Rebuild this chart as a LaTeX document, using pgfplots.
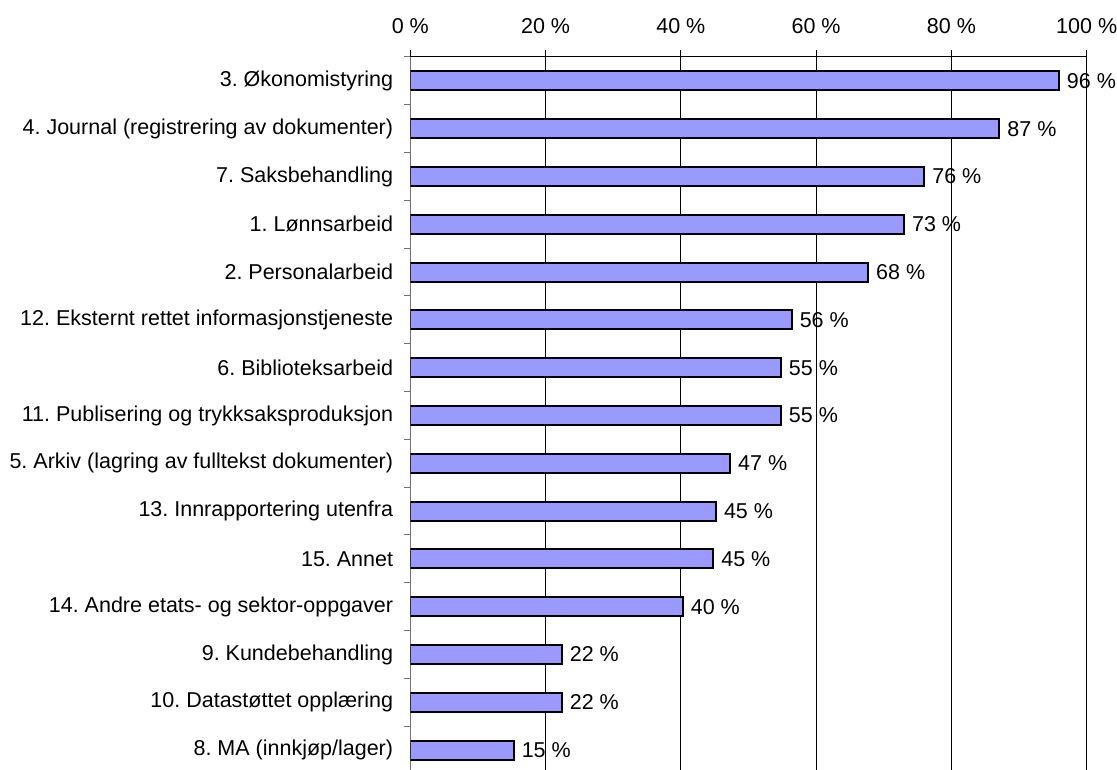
\documentclass[border=0pt]{standalone}
\usepackage{pgfplots}
\pgfplotsset{compat=1.18}
\usepackage{fontspec}
\setmainfont{Liberation Sans}
\frenchspacing
\definecolor{barfill}{HTML}{9999FF}
\begin{document}
\begin{tikzpicture}[font=\fontsize{21.5pt}{25pt}\selectfont]
\useasboundingbox (-410.3pt,0pt) rectangle (706.7pt,769pt);
\begin{axis}[
  at={(0pt,-5pt)}, anchor=south west,
  scale only axis, width=676.4pt, height=717pt,
  xbar, bar width=19pt,
  xmin=0, xmax=100, ymin=-0.5, ymax=14.5,
  axis x line*=top, axis y line*=left,
  x axis line style={black, line width=1pt},
  y axis line style={black!55, line width=1pt},
  xtick={0,20,...,100},
  xticklabel={\pgfmathprintnumber{\tick}~\%},
  /pgf/number format/assume math mode=true,
  xticklabel style={anchor=south, inner sep=0pt, yshift=17pt},
  ytick={-0.5,0.5,...,14.5},
  y tick label as interval,
  yticklabels={
    {8. MA (innkjøp/lager)},
    {10. Datastøttet opplæring},
    {9. Kundebehandling},
    {14. Andre etats- og sektor-oppgaver},
    {15. Annet},
    {13. Innrapportering utenfra},
    {5. Arkiv (lagring av fulltekst dokumenter)},
    {11. Publisering og trykksaksproduksjon},
    {6. Biblioteksarbeid},
    {12. Eksternt rettet informasjonstjeneste},
    {2. Personalarbeid},
    {1. Lønnsarbeid},
    {7. Saksbehandling},
    {4. Journal (registrering av dokumenter)},
    {3. Økonomistyring}},
  yticklabel style={anchor=east, inner sep=0pt, xshift=-10.5pt},
  tick align=outside,
  major tick length=6.5pt,
  xtick style={black, line width=1pt},
  ytick style={black!55, line width=1pt},
  xmajorgrids=true,
  major x grid style={black, line width=1pt},
  nodes near coords={\pgfmathprintnumber[fixed,precision=0]{\pgfplotspointmeta}~\%},
  nodes near coords align=horizontal,
  every node near coord/.append style={anchor=west, inner sep=0pt, xshift=7pt, black},
]
\addplot[fill=barfill, draw=black, line width=2pt] coordinates {
  (15.3,0) (22.4,1) (22.4,2) (40.3,3) (44.8,4) (45.2,5) (47.3,6)
  (54.8,7) (54.8,8) (56.4,9) (67.7,10) (73.0,11) (76.0,12) (87.1,13) (95.9,14)
};
\end{axis}
\end{tikzpicture}
\end{document}
